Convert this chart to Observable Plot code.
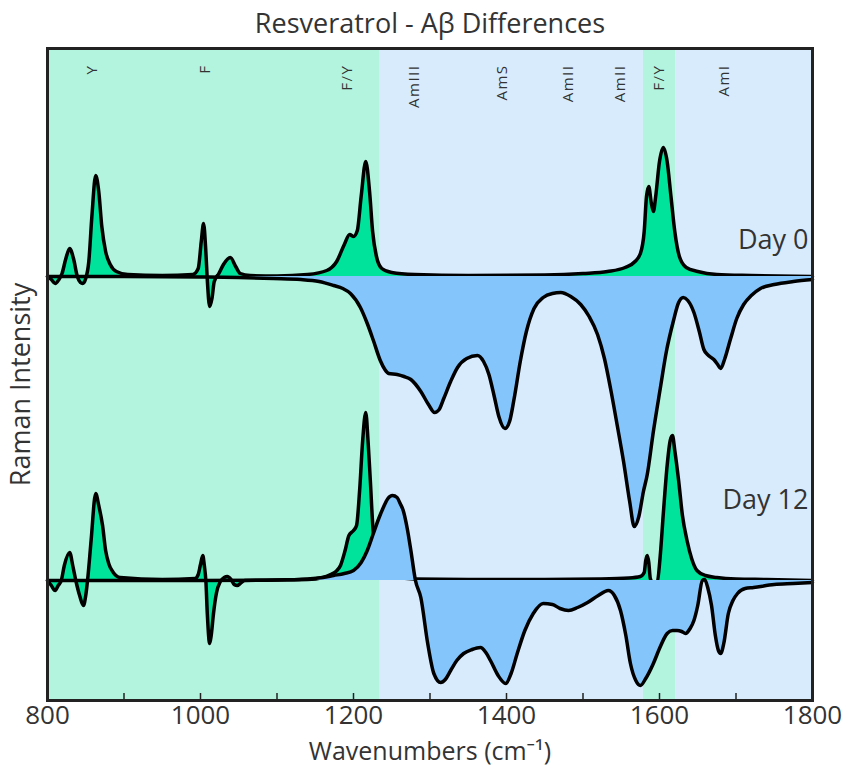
<!DOCTYPE html>
<html>
<head>
<meta charset="utf-8">
<script src="https://cdn.jsdelivr.net/npm/d3@7"></script>
<script src="https://cdn.jsdelivr.net/npm/@observablehq/plot@0.6"></script>
<style>
  html, body { margin: 0; padding: 0; background: #fff; }
  #chart svg { display: block; }
</style>
</head>
<body>
<div id="chart"></div>
<script>
// ---- Data (wavenumber, intensity relative to each trace's own baseline) ----
const day0Offset = 30.4;
const day12Offset = 0;

const day0Green = [
  [800,0],[805,-0.3],[810,-0.7],[815,-0.3],[819,0.3],[824,1.8],[829,2.8],[834,1.8],[839,0],[843,-0.6],[846,-0.7],[850,-0.2],
  [854,1.5],[858,6],[863,10.1],[867,8.5],[871,5],[876,2.5],[882,1.2],[890,0.5],[905,0.2],[950,0.1],[990,0.2],[997,0.8],
  [1001,3.5],[1004,5.3],[1007,2.5],[1009,-0.5],[1012,-3],[1015,-2.2],[1018,-0.5],[1024,0.3],[1030,1.2],[1039,1.9],[1046,1.0],
  [1052,0.3],[1065,0.1],[1100,0.05],[1140,0.2],[1165,0.6],[1178,1.5],[1188,3.2],[1195,4.2],[1200,4.0],[1205,4.6],[1210,8],
  [1216,11.5],[1221,8.5],[1225,4.5],[1230,2.0],[1237,0.8],[1250,0.4],[1280,0.2],[1350,0.1],[1450,0.15],[1500,0.3],[1532,0.5],
  [1555,0.9],[1568,1.5],[1575,2.3],[1580,4.5],[1583,8],[1586,9],[1589,7.5],[1592,6.5],[1595,8],[1600,11.5],[1605,12.9],
  [1610,11.5],[1615,8],[1620,4.5],[1626,2],[1635,0.9],[1650,0.5],[1675,0.2],[1720,0.1],[1800,0]
];

const day0Blue = [
  [800,0],[900,0],[1000,-0.05],[1050,-0.1],[1095,-0.2],[1131,-0.3],[1155,-0.5],[1174,-0.9],[1186,-1.2],[1196,-1.7],[1209,-3.1],
  [1218,-4.7],[1226,-6.4],[1235,-8.4],[1241,-9.3],[1246,-9.7],[1257,-9.8],[1266,-10],[1275,-10.3],[1288,-11.5],[1298,-12.8],
  [1306,-13.6],[1312,-13.3],[1318,-12.2],[1327,-10.5],[1336,-9.1],[1348,-8.2],[1362,-7.9],[1370,-8.5],[1377,-9.8],[1384,-12],
  [1390,-14],[1398,-15.2],[1404,-14.5],[1410,-12.2],[1418,-8.5],[1426,-5.5],[1436,-3.2],[1448,-2.1],[1460,-1.7],[1471,-1.6],
  [1484,-2],[1497,-2.8],[1508,-4],[1519,-5.8],[1528,-8.2],[1536,-11.2],[1545,-15],[1553,-18.5],[1561,-22.5],[1567,-25],
  [1573,-24],[1579,-21.5],[1584,-19.8],[1592,-15.5],[1601,-11.2],[1609,-7.5],[1618,-4.5],[1625,-2.6],[1631,-2.1],[1637,-2.4],
  [1645,-3.6],[1652,-5.5],[1658,-7.3],[1664,-7.9],[1671,-8.3],[1676,-8.8],[1680,-9.2],[1685,-8.3],[1693,-6.2],[1701,-4.2],
  [1710,-2.8],[1720,-1.9],[1732,-1.2],[1750,-0.8],[1775,-0.5],[1800,-0.3]
];

const day12Green = [
  [800,0],[805,-0.5],[810,-1],[814,-0.5],[818,0],[822,1.5],[829,2.8],[833,1.5],[837,0],[842,-1.5],[847,-2.5],[850,-1.5],
  [853,0.5],[857,4],[863,8.7],[867,7.5],[872,5.5],[876,3],[880,1.7],[886,0.8],[895,0.3],[950,0.1],[993,0.2],[997,0.6],
  [1000,1.6],[1003,2.5],[1005,1.5],[1007,0],[1009,-3.5],[1012,-6.3],[1014,-5.5],[1017,-3.3],[1021,-1.2],[1026,-0.1],
  [1031,0.3],[1035,0.4],[1040,0.1],[1044,-0.4],[1048,-0.5],[1052,-0.3],[1058,0],[1100,0.05],[1140,0.1],[1160,0.3],
  [1170,0.6],[1177,0.9],[1183,1.5],[1189,3.0],[1194,4.5],[1200,5],[1204,5.5],[1208,9],[1212,14],[1216,16.8],[1219,14],
  [1222,10],[1226,4.7],[1232,2.5],[1240,1],[1255,0.4],[1280,0.15],[1350,0.1],[1450,0.1],[1520,0.15],[1560,0.25],[1575,0.4],
  [1580,0.8],[1582,2],[1584,2.5],[1586,1.8],[1588,0.2],[1592,-0.3],[1597,-0.2],[1601,2.5],[1605,6.7],[1610,11.5],[1614,14],
  [1617,14.5],[1620,13],[1625,10],[1630,6.5],[1636,4],[1642,2.2],[1649,1],[1660,0.5],[1675,0.3],[1700,0.15],[1740,0.1],[1800,0]
];

const day12Blue = [
  [800,0],[900,0],[1000,0],[1100,0.05],[1140,0.15],[1160,0.3],[1174,0.5],[1188,0.7],[1200,1.0],[1210,1.8],[1218,3],
  [1226,4.7],[1233,6.2],[1239,7.3],[1245,8.2],[1251,8.5],[1257,8.3],[1261,7.7],[1265,7.0],[1270,5.3],[1275,3],[1281,0],
  [1288,-1.7],[1297,-6.3],[1305,-9.3],[1314,-10.2],[1320,-9.9],[1327,-9],[1335,-8],[1344,-7.3],[1355,-6.9],[1366,-6.7],
  [1373,-7.2],[1379,-8],[1389,-9.5],[1399,-10.3],[1406,-9.3],[1414,-7.3],[1424,-5],[1435,-3.3],[1448,-2.3],[1460,-2.4],
  [1470,-2.8],[1481,-3],[1493,-2.7],[1506,-2.2],[1520,-1.5],[1533,-1],[1541,-1.5],[1549,-3],[1556,-5.5],[1562,-8.3],
  [1569,-10],[1575,-10.5],[1582,-9.8],[1592,-8.3],[1600,-6.8],[1610,-5.3],[1617,-5],[1623,-5],[1629,-5.1],[1634,-5.3],
  [1640,-4.8],[1645,-4],[1650,-2.5],[1656,0],[1659,0.1],[1663,-0.7],[1668,-2.5],[1673,-5.5],[1677,-7],[1680,-7.3],
  [1684,-6.3],[1690,-3.3],[1696,-2],[1702,-1.3],[1712,-0.8],[1723,-0.7],[1750,-0.4],[1775,-0.3],[1800,-0.2]
];

// Background spectral regions
const regionStarts = [800, 1235, 1579, 1621];
const regionEnds   = [1235, 1579, 1621, 1800];
const regionKinds  = ["side", "amide", "side", "amide"];

// Band assignment labels at the top
const bandLabels = ["Y", "F", "F/Y", "AmIII", "AmS", "AmII", "AmII", "F/Y", "AmI"];
const bandPositions = [858, 1006, 1192, 1279, 1395, 1480, 1549, 1599, 1684];

// Trace labels
const traceNames = ["Day 0", "Day 12"];
const traceLabelValues = [34.0, 8.0];

const majorTicks = [800, 1000, 1200, 1400, 1600, 1800];
const minorTicks = [900, 1000, 1100, 1200, 1300, 1400, 1500, 1600, 1700];

// ---- Build ----
const C = {
  bgSide: "#b3f4df",
  bgAmide: "#d8ebfd",
  fillGreen: "#00e39b",
  fillBlue: "#84c5fb",
  line: "#000000",
  text: "#333333",
  frame: "#222222"
};

const regions = regionStarts.map((s, i) => ({x1: s, x2: regionEnds[i], kind: regionKinds[i]}));
const bands = bandLabels.map((t, i) => ({t, x: bandPositions[i]}));
const traceLabels = traceNames.map((t, i) => ({t, y: traceLabelValues[i]}));

function traceMarks(data, offset, fill) {
  return [
    Plot.areaY(data, {x: d => d[0], y1: offset, y2: d => d[1] + offset, fill, curve: "monotone-x"}),
    Plot.line(data, {x: d => d[0], y: d => d[1] + offset, stroke: C.line, strokeWidth: 3.5,
      strokeLinejoin: "round", strokeLinecap: "round", curve: "monotone-x"})
  ];
}

const FONT = "'Open Sans', 'Noto Sans', sans-serif";

const chart = Plot.plot({
  width: 852,
  height: 768,
  marginTop: 48,
  marginBottom: 68,
  marginLeft: 47,
  marginRight: 40,
  style: {fontFamily: FONT, background: "#fff"},
  x: {domain: [800, 1800], label: null},
  y: {domain: [-12, 53.2], axis: null, label: null},
  marks: [
    Plot.rect(regions, {x1: "x1", x2: "x2", fill: d => d.kind === "side" ? C.bgSide : C.bgAmide}),
    ...traceMarks(day0Green, day0Offset, C.fillGreen),
    ...traceMarks(day0Blue, day0Offset, C.fillBlue),
    ...traceMarks(day12Green, day12Offset, C.fillGreen),
    ...traceMarks(day12Blue, day12Offset, C.fillBlue),
    Plot.text(bands, {x: "x", text: "t", frameAnchor: "top", rotate: -90, textAnchor: "end",
      lineAnchor: "middle", dy: 16, fontSize: 15, fill: C.text}),
    Plot.text(traceLabels, {y: "y", text: "t", frameAnchor: "right", textAnchor: "end", dx: -4,
      fontSize: 27, fill: C.text}),
    Plot.tickX(minorTicks, {x: d => d, stroke: C.frame, strokeWidth: 1.5, insetTop: 645}),
    Plot.frame({stroke: C.frame, strokeWidth: 3}),
    Plot.axisX({ticks: majorTicks, tickSize: 0, tickPadding: 5, tickFormat: d => String(d),
      fontSize: 26, fill: C.text, label: null}),
    Plot.text(["Resveratrol - A\u03B2 Differences"], {frameAnchor: "top", lineAnchor: "middle", dy: -24,
      fontSize: 27, fill: C.text}),
    Plot.text(["Wavenumbers (cm\u207B\u00B9)"], {frameAnchor: "bottom", lineAnchor: "middle", dy: 51,
      fontSize: 25, fill: C.text}),
    Plot.text(["Raman Intensity"], {frameAnchor: "left", rotate: -90, textAnchor: "middle", lineAnchor: "middle",
      dx: -26, dy: 10, fontSize: 27, fill: C.text})
  ]
});

// slightly spaced-out band labels, as in the original figure
d3.select(chart).selectAll("text")
  .filter(function() { return bandLabels.includes(this.textContent); })
  .attr("letter-spacing", "1.5px");

document.getElementById("chart").appendChild(chart);
</script>
</body>
</html>
